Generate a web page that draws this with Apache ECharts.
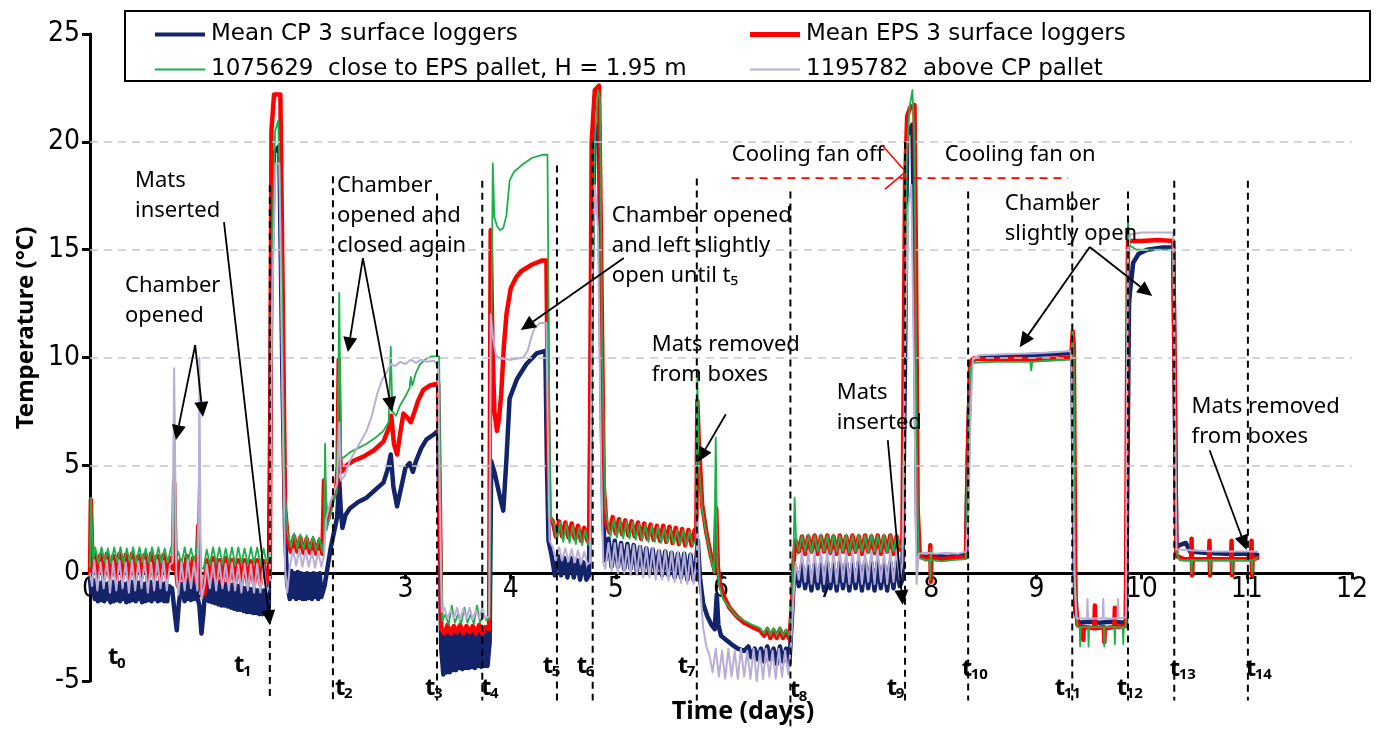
<!DOCTYPE html>
<html><head><meta charset="utf-8">
<script src="https://cdn.jsdelivr.net/npm/echarts/dist/echarts.min.js"></script>
<style>html,body{margin:0;padding:0;background:#fff}#c{width:1385px;height:729px}</style>
</head><body><div id="c"></div>
<script>
// ---------- axes ----------
const X_MIN = 0, X_MAX = 12, X_STEP = 1;
const Y_MIN = -5, Y_MAX = 25, Y_STEP = 5;
const GRID_VALUES = [5, 10, 15, 20];

// ---------- series names ----------
const NAME_CP = 'Mean CP 3 surface loggers';
const NAME_EPS = 'Mean EPS 3 surface loggers';
const NAME_G = '1075629  close to EPS pallet, H = 1.95 m';
const NAME_L = '1195782  above CP pallet';

// ---------- data (days, °C); {from, step, v} = consecutive logger readings ----------
const cpMean = [
  [0,-0.3],[0.012,-0.9],
  {from:0.03, step:0.015, v:[-0.4,-1.2,-0.5,-1.3,-0.45,-1.25,-0.4,-1.3,-0.5,-1.2,-0.45,-1.35,-0.4,-1.3,-0.5,-1.25,-0.45,-1.3,-0.4,-1.2,-0.5,-1.35,-0.45,-1.3,-0.4,-1.25,-0.5,-1.3,-0.45,-1.2,-0.4,-1.35,-0.5,-1.3,-0.45,-1.25,-0.4,-1.3,-0.5,-1.2,-0.45,-1.3,-0.4,-1.25,-0.5,-1.3,-0.45,-1.3,-0.6]},
  [0.78,-0.7],[0.8,-1.6],[0.825,-2.65],[0.845,-1.4],[0.87,-0.5],
  {from:0.9, step:0.015, v:[-1.3,-0.3,-1.2,-0.4,-1.25,-0.35,-1.2,-0.4,-1.1]},
  [1.04,-1.5],[1.06,-2.8],[1.08,-1.8],[1.1,-0.3],
  {from:1.13, step:0.015, v:[-1.3,-0.2,-1.35,-0.3,-1.4,-0.35,-1.45,-0.4,-1.5,-0.45,-1.5,-0.5,-1.55,-0.5,-1.6,-0.55,-1.65,-0.6,-1.7,-0.6,-1.7,-0.65,-1.75,-0.7,-1.8,-0.7,-1.8,-0.75,-1.85,-0.75,-1.85,-0.8,-1.9,-0.8,-1.9,-0.8,-1.85]},
  [1.7,-1.5],[1.725,14],[1.75,19.5],[1.8,19.8],[1.83,9],[1.855,2],[1.875,-0.5],
  {from:1.9, step:0.015, v:[-1.2,0.1,-1.1,0.0,-1.2,0.05,-1.15,0.0,-1.2,-0.05,-1.2,0.0,-1.15,-0.05,-1.2,0.0,-1.1,-0.1,-1.2,0.0,-1.1]},
  [2.23,-0.6],[2.26,0.3],[2.29,1.2],[2.32,1.9],[2.35,2.6],[2.37,4.3],[2.385,2.9],[2.4,2.1],[2.43,2.7],[2.47,3.0],[2.55,3.3],[2.63,3.5],[2.72,3.9],[2.79,4.2],[2.83,4.8],[2.86,5.5],[2.885,4.0],[2.92,3.1],[2.96,4.0],[3.0,4.9],[3.04,5.1],[3.07,4.7],[3.1,5.2],[3.15,5.8],[3.2,6.2],[3.26,6.4],[3.31,6.6],[3.325,2],[3.34,-3.5],
  {from:3.36, step:0.015, v:[-4.7,-2.8,-4.6,-2.7,-4.6,-2.8,-4.5,-2.7,-4.5,-2.8,-4.4,-2.7,-4.45,-2.75,-4.4,-2.7,-4.4,-2.8,-4.35,-2.7,-4.4,-2.75,-4.3,-2.7,-4.35,-2.8,-4.3,-2.7,-4.3]},
  [3.8,-3.2],[3.815,5.2],[3.85,4.6],[3.9,3.5],[3.93,2.9],[3.96,5.3],[3.99,8.1],[4.06,9.0],[4.15,9.7],[4.25,10.2],[4.33,10.3],[4.345,5],[4.36,1.5],[4.39,0.8],
  {from:4.42, step:0.03, v:[-0.1,0.8,-0.1,0.7,-0.2,0.7,-0.2,0.6,-0.3,0.5,-0.3]},
  [4.745,-0.1],[4.77,14],[4.8,20.5],[4.84,20.8],[4.86,10],[4.88,2.5],[4.9,0.6],
  {from:4.93, step:0.03, v:[1.6,0.3,1.5,0.3,1.4,0.2,1.35,0.2,1.3,0.1,1.2,0.1,1.15,0.0,1.1,0.0,1.0,-0.1,1.0,-0.1,0.95,-0.2,0.9,-0.2,0.9,-0.3,0.85,-0.3]},
  [5.765,0.6],[5.78,1.5],[5.8,-0.2],[5.83,-1.4],[5.87,-2.0],[5.91,-2.4],[5.94,-2.6],[5.96,-1.0],[5.975,-2.4],[6.0,-2.9],[6.05,-3.1],[6.1,-3.3],[6.16,-3.5],[6.22,-3.6],
  {from:6.26, step:0.03, v:[-3.4,-3.9,-3.5,-4.0,-3.5,-4.1,-3.4,-4.0,-3.5,-4.2,-3.4,-4.1,-3.5,-4.2]},
  [6.675,-2.0],[6.69,-0.5],[6.71,0.2],
  {from:6.74, step:0.03, v:[-0.6,0.4,-0.7,0.3,-0.8,0.4,-0.7,0.4,-0.8,0.5,-0.7,0.4,-0.8,0.5,-0.7,0.5,-0.8,0.4,-0.7,0.5,-0.8,0.5,-0.7,0.5,-0.8,0.5,-0.7,0.4,-0.8,0.5,-0.7,0.5,-0.6]},
  [7.725,-0.3],[7.75,10],[7.77,20.3],[7.82,20.8],[7.845,12],[7.865,2],[7.885,0.8],
  [7.95,0.75],[8.05,0.8],[8.15,0.75],[8.25,0.8],[8.33,0.85],[8.345,5],[8.37,9.7],[8.4,9.9],[8.5,10.0],[8.7,10.05],[8.9,10.1],[9.1,10.15],[9.3,10.2],[9.34,10.3],[9.355,3],[9.37,-1.8],[9.4,-2.3],[9.5,-2.25],[9.6,-2.3],[9.7,-2.25],[9.85,-2.3],
  [9.865,5],[9.88,12.5],[9.89,13.1],[9.92,14.4],[9.97,14.8],[10.05,15.0],[10.2,15.1],[10.3,15.1],[10.315,8],[10.33,1.2],[10.36,1.3],[10.42,1.4],[10.46,1.0],[10.6,0.95],[10.8,0.9],[11.0,0.9],[11.1,0.85]
];

const epsMean = [
  [0,0.0],[0.008,3.4],[0.025,0.2],
  {from:0.04, step:0.03, v:[0.9,-0.2,0.85,-0.3,0.9,-0.2,0.8,-0.3,0.9,-0.2,0.85,-0.25,0.9,-0.3,0.8,-0.2,0.85,-0.3,0.9,-0.25,0.8,-0.3,0.85,-0.2,0.7]},
  [0.79,0.2],[0.80,4.2],[0.815,0.3],[0.835,-0.6],[0.86,0.6],
  {from:0.89, step:0.03, v:[-0.3,0.8,-0.3,0.7,-0.35]},
  [1.03,2.2],[1.05,-0.6],[1.07,-1.05],[1.09,-0.9],[1.11,0.6],
  {from:1.14, step:0.03, v:[-0.4,0.7,-0.4,0.6,-0.45,0.7,-0.45,0.6,-0.5,0.6,-0.5,0.6,-0.5,0.55,-0.5,0.6,-0.5,0.55,-0.45]},
  [1.71,-0.2],[1.725,20.5],[1.75,22.2],[1.81,22.2],[1.83,14],[1.855,3],[1.88,1.6],
  {from:1.91, step:0.03, v:[1.0,1.7,1.0,1.65,0.95,1.6,0.95,1.55,0.9,1.5,0.9]},
  [2.225,4.3],[2.245,2.3],[2.27,2.6],[2.3,3.3],[2.34,3.8],[2.355,5],[2.365,9.9],[2.375,5.5],[2.39,4.7],[2.44,5.0],[2.5,5.2],[2.6,5.4],[2.7,5.7],[2.79,6.1],[2.84,6.7],[2.865,7.3],[2.89,6.0],[2.92,5.5],[2.95,6.5],[2.98,7.4],[3.02,7.2],[3.05,7.0],[3.08,7.4],[3.12,8.0],[3.17,8.5],[3.23,8.7],[3.31,8.8],[3.325,4],[3.34,-2.6],
  {from:3.37, step:0.03, v:[-2.8,-2.4,-2.8,-2.45,-2.75,-2.4,-2.8,-2.45,-2.75,-2.45,-2.8,-2.4,-2.8,-2.5]},
  [3.795,-2.6],[3.81,15.9],[3.825,11],[3.845,7.5],[3.87,6.6],[3.89,7.2],[3.91,8.3],[3.935,10.5],[3.96,12.0],[4.0,13.2],[4.05,13.7],[4.1,14.0],[4.2,14.3],[4.3,14.5],[4.34,14.5],[4.355,7],[4.37,2.6],[4.4,2.4],
  {from:4.43, step:0.03, v:[1.7,2.4,1.7,2.35,1.65,2.3,1.6,2.2,1.5,2.1,1.5]},
  [4.75,1.6],[4.77,20],[4.8,22.4],[4.84,22.6],[4.86,15],[4.885,4],[4.91,2.3],
  {from:4.94, step:0.03, v:[1.9,2.6,1.85,2.5,1.8,2.45,1.75,2.4,1.7,2.35,1.6,2.3,1.6,2.25,1.55,2.2,1.5,2.2,1.45,2.15,1.4,2.1,1.35,2.05,1.3,2.0,1.3,2.0]},
  [5.765,1.6],[5.775,8.0],[5.79,6.0],[5.82,3.2],[5.86,1.9],[5.9,0.9],[5.94,0.1],[5.955,3.0],[5.97,0.3],[5.99,-0.5],[6.03,-1.1],[6.08,-1.6],[6.15,-2.0],[6.22,-2.3],[6.3,-2.5],[6.37,-2.65],
  {from:6.41, step:0.03, v:[-2.9,-2.6,-3.0,-2.65,-3.0,-2.6,-3.0,-2.7,-3.05]},
  [6.675,-1.5],[6.69,0.5],[6.71,1.5],
  {from:6.74, step:0.03, v:[1.0,1.7,0.9,1.7,1.0,1.75,0.9,1.7,1.0,1.75,0.95,1.7,0.9,1.75,1.0,1.7,0.9,1.75,1.0,1.7,0.9,1.75,1.0,1.7,0.95,1.75,0.9,1.7,1.0,1.75,0.9,1.7,1.1]},
  [7.725,1.4],[7.75,18],[7.77,21.2],[7.8,21.6],[7.84,21.7],[7.855,14],[7.87,3],[7.89,0.8],
  [7.95,0.65],[7.985,0.7],[7.99,1.3],[7.995,-0.4],[8.0,0.7],[8.1,0.65],[8.2,0.7],[8.33,0.75],[8.345,5],[8.37,9.8],[8.4,9.95],[8.6,9.9],[8.8,9.95],[9.0,9.9],[9.2,9.95],[9.33,10.0],[9.345,11.2],[9.355,10.5],[9.37,-1.0],[9.39,-2.4],
  [9.44,-2.5],[9.445,-3.1],[9.45,-2.5],[9.55,-2.55],[9.555,-1.5],[9.56,-2.55],[9.64,-2.5],[9.645,-3.2],[9.65,-2.55],[9.74,-2.5],[9.745,-1.6],[9.75,-2.5],[9.85,-2.45],
  [9.86,8],[9.87,15.4],[10.0,15.4],[10.15,15.45],[10.3,15.4],[10.315,9],[10.33,0.8],[10.4,0.65],[10.47,0.65],[10.475,1.6],[10.48,-0.1],[10.485,0.65],[10.64,0.65],[10.645,1.5],[10.65,-0.1],[10.655,0.65],[10.85,0.65],[10.855,1.5],[10.86,-0.1],[10.865,0.65],[11.04,0.65],[11.045,1.5],[11.05,-0.1],[11.055,0.65],[11.1,0.7]
];

const logger1075629 = [
  [0,0.3],[0.01,3.5],[0.03,0.6],
  {from:0.05, step:0.03, v:[1.2,0.45,1.2,0.5,1.15,0.45,1.2,0.5,1.2,0.45,1.15,0.5,1.2,0.45,1.2,0.5,1.15,0.45,1.2,0.5,1.2,0.45,1.15,0.5]},
  [0.77,1.2],[0.79,0.6],[0.80,7.8],[0.815,0.6],[0.84,1.0],[0.87,0.4],
  {from:0.9, step:0.03, v:[1.2,0.45,1.15,0.5,1.2]},
  [1.035,4.1],[1.05,0.3],[1.08,0.2],[1.11,1.1],
  {from:1.14, step:0.03, v:[0.4,1.2,0.45,1.2,0.4,1.15,0.45,1.2,0.4,1.2,0.45,1.15,0.4,1.2,0.45,1.2,0.4,1.15,0.45]},
  [1.71,1.0],[1.73,15],[1.76,20.5],[1.79,21.0],[1.82,15],[1.85,4],[1.88,1.8],
  {from:1.91, step:0.03, v:[1.2,1.85,1.15,1.8,1.1,1.75,1.1,1.7,1.05,1.65,1.0]},
  [2.225,1.6],[2.235,6.0],[2.25,2.0],[2.28,2.6],[2.31,3.2],[2.345,3.8],[2.36,8],[2.37,13.0],[2.38,8],[2.39,5.3],[2.42,5.4],[2.47,5.6],[2.55,5.8],[2.63,6.0],[2.72,6.3],[2.79,6.6],[2.84,7.0],[2.86,10.5],[2.875,7.5],[2.91,7.3],[2.95,7.8],[3.0,8.2],[3.04,8.6],[3.05,9.1],[3.065,8.7],[3.1,9.3],[3.14,9.7],[3.2,9.95],[3.25,10.05],[3.32,10.05],[3.335,3],[3.35,-2.2],
  {from:3.38, step:0.03, v:[-1.9,-2.4,-1.5,-2.3,-1.9,-2.35,-1.6,-2.3,-1.9,-2.35,-1.5,-2.3,-1.9,-2.2]},
  [3.8,-2.1],[3.815,10],[3.83,19.0],[3.845,16.5],[3.87,16.1],[3.9,15.9],[3.93,16.0],[3.96,16.6],[3.99,18.2],[4.03,18.6],[4.1,18.9],[4.2,19.25],[4.3,19.4],[4.35,19.4],[4.365,9],[4.38,2.6],[4.41,2.3],
  {from:4.44, step:0.03, v:[1.5,2.35,1.45,2.3,1.4,2.2,1.35,2.1,1.3,2.0,1.3]},
  [4.76,1.5],[4.78,12],[4.8,20],[4.83,22.4],[4.85,22.0],[4.87,10],[4.9,3],[4.92,2.4],
  {from:4.95, step:0.03, v:[1.7,2.5,1.65,2.45,1.6,2.4,1.6,2.35,1.55,2.3,1.5,2.25,1.45,2.2,1.45,2.15,1.4,2.1,1.4,2.05,1.35,2.0,1.35,2.0,1.3,1.95,1.3]},
  [5.76,1.5],[5.775,9.1],[5.79,5],[5.82,3.0],[5.86,1.8],[5.9,0.8],[5.935,0.0],[5.95,6.3],[5.965,0.4],[5.985,-0.6],[6.02,-1.2],[6.08,-1.6],[6.15,-2.0],[6.22,-2.2],[6.3,-2.4],[6.37,-2.55],
  {from:6.41, step:0.03, v:[-2.8,-2.5,-2.9,-2.55,-2.9,-2.5,-2.9,-2.6,-2.95]},
  [6.675,-1.0],[6.69,1.0],[6.7,3.5],[6.715,1.5],
  {from:6.74, step:0.03, v:[1.0,1.75,1.0,1.8,0.95,1.75,1.0,1.8,1.0,1.75,0.95,1.8,1.0,1.75,1.0,1.8,0.95,1.75,1.0,1.8,1.0,1.75,0.95,1.8,1.0,1.75,1.0,1.8,0.95,1.75,1.0,1.8,1.2]},
  [7.725,1.3],[7.745,8],[7.765,19],[7.79,21.5],[7.82,22.4],[7.84,20],[7.86,6],[7.88,0.7],
  [7.95,0.6],[7.985,0.6],[7.99,-0.3],[7.995,1.1],[8.0,0.6],[8.1,0.55],[8.2,0.6],[8.33,0.65],[8.345,5],[8.37,9.5],[8.4,9.75],[8.6,9.8],[8.94,9.8],[8.95,9.4],[8.96,9.8],[9.1,9.85],[9.33,9.9],[9.345,11.2],[9.355,10],[9.37,-1.0],[9.39,-2.5],
  [9.41,-2.5],[9.415,-3.4],[9.42,-2.5],[9.49,-2.5],[9.495,-3.4],[9.5,-2.5],[9.64,-2.5],[9.645,-3.4],[9.65,-2.5],[9.74,-2.5],[9.745,-3.3],[9.75,-2.5],[9.82,-2.5],[9.825,-3.3],[9.83,-2.5],[9.85,-2.45],
  [9.86,10],[9.87,16.5],[9.885,15.2],[9.95,15.0],[10.1,15.0],[10.3,15.0],[10.315,8],[10.33,1.0],[10.36,0.6],[10.47,0.6],[10.475,0.0],[10.48,0.6],[10.645,0.6],[10.65,0.0],[10.655,0.6],[10.855,0.6],[10.86,0.0],[10.865,0.6],[11.045,0.6],[11.05,0.0],[11.055,0.6],[11.1,0.7]
];

const logger1195782 = [
  [0,0.0],[0.02,-0.6],
  {from:0.04, step:0.03, v:[0.6,-0.8,0.5,-0.7,0.6,-0.9,0.55,-0.8,0.6,-0.7,0.5,-0.9,0.6,-0.8,0.55,-0.7,0.6,-0.9,0.5,-0.8,0.6,-0.7,0.55,-0.8,0.4]},
  [0.785,0.5],[0.80,9.5],[0.81,5],[0.82,0.0],[0.84,-1.0],[0.87,0.5],
  {from:0.9, step:0.03, v:[-0.8,0.6,-0.7,0.5,-0.8]},
  [1.035,3],[1.04,10.0],[1.05,2],[1.06,-1.2],[1.09,-0.5],[1.11,0.4],
  {from:1.14, step:0.03, v:[-0.7,0.5,-0.8,0.5,-0.7,0.45,-0.8,0.5,-0.8,0.4,-0.9,0.45,-0.8,0.4,-0.9,0.45,-0.9,0.4,-0.9]},
  [1.71,-0.5],[1.73,12],[1.765,19.0],[1.8,19.0],[1.83,8],[1.855,0.2],[1.875,-0.9],
  {from:1.9, step:0.03, v:[0.3,1.1,0.35,1.1,0.3,1.05,0.3,1.0,0.25,1.0,0.3]},
  [2.225,0.8],[2.245,2.5],[2.27,3.0],[2.31,3.6],[2.35,4.2],[2.37,7.0],[2.385,4.3],[2.42,4.5],[2.47,5.2],[2.55,5.9],[2.63,6.6],[2.68,7.3],[2.73,8.3],[2.78,9.0],[2.82,9.3],[2.86,9.7],[2.9,9.6],[2.95,9.8],[3.0,9.7],[3.05,9.9],[3.1,9.75],[3.15,9.9],[3.2,9.8],[3.27,9.85],[3.31,9.6],[3.33,2],[3.345,-1.8],
  {from:3.37, step:0.03, v:[-1.6,-2.1,-1.7,-2.1,-1.6,-2.15,-1.65,-2.1,-1.6,-2.15,-1.7,-2.1,-1.6,-2.1]},
  [3.795,-2.0],[3.81,12],[3.83,11.0],[3.86,10.1],[3.9,9.95],[4.0,9.9],[4.12,10.0],[4.16,10.3],[4.2,11.0],[4.23,11.4],[4.28,11.6],[4.34,11.6],[4.355,6],[4.37,1.5],[4.4,1.2],
  {from:4.43, step:0.03, v:[0.6,1.2,0.6,1.15,0.55,1.1,0.5,1.05,0.45,1.0,0.4]},
  [4.755,0.5],[4.775,14],[4.8,18],[4.83,16],[4.86,5],[4.88,0.5],[4.9,0.2],
  {from:4.93, step:0.03, v:[1.4,0.1,1.4,0.0,1.35,0.0,1.3,-0.1,1.3,-0.1,1.25,-0.2,1.2,-0.2,1.15,-0.3,1.1,-0.3,1.05,-0.35,1.0,-0.4,1.0,-0.45,0.95,-0.5,0.9,-0.5]},
  [5.765,0.5],[5.78,2.5],[5.8,-0.5],[5.83,-2.5],[5.86,-3.4],[5.89,-3.8],
  {from:5.92, step:0.03, v:[-4.6,-3.5,-4.8,-3.6,-4.9,-3.5,-4.8,-3.6,-4.9,-3.5,-4.8,-3.6,-4.9,-3.5,-5.0,-3.6,-4.9,-3.5,-4.8,-3.6,-4.9,-3.5,-4.8,-3.6,-4.7]},
  [6.67,-3.0],[6.69,-1.0],[6.71,0.5],
  {from:6.74, step:0.03, v:[-0.3,1.0,-0.4,1.05,-0.5,1.0,-0.4,1.1,-0.5,1.0,-0.4,1.05,-0.5,1.1,-0.4,1.0,-0.5,1.05,-0.4,1.1,-0.5,1.0,-0.4,1.05,-0.5,1.1,-0.4,1.0,-0.5,1.05,-0.4,1.1,-0.3]},
  [7.725,0.5],[7.75,10],[7.78,17],[7.81,18],[7.84,8],[7.86,-0.5],[7.88,0.9],
  [7.95,0.95],[8.05,0.9],[8.15,0.95],[8.25,0.9],[8.33,1.0],[8.355,3],[8.375,7.7],[8.395,9.9],[8.45,10.1],[8.7,10.15],[9.0,10.2],[9.2,10.25],[9.33,10.3],[9.345,10.3],[9.36,0],[9.38,-2.1],
  [9.48,-2.1],[9.485,-1.2],[9.49,-2.1],[9.63,-2.1],[9.635,-1.2],[9.64,-2.1],[9.77,-2.1],[9.775,-1.2],[9.78,-2.1],[9.85,-2.05],
  [9.86,8],[9.87,15.0],[9.89,15.7],[10.0,15.8],[10.3,15.8],[10.315,9],[10.33,1.1],[10.5,1.05],[10.7,1.0],[10.9,1.0],[11.1,1.0]
];

// ---------- event markers t0..t14 (day, top of dashed line, label position) ----------
const tMarks = [
  {n:'0',  t:null,  top:null, lx:0.171, ly:-3.90},
  {n:'1',  t:1.71,  top:18.0, lx:1.369, ly:-4.27},
  {n:'2',  t:2.31,  top:18.4, lx:2.329, ly:-5.33},
  {n:'3',  t:3.30,  top:17.6, lx:3.185, ly:-5.33},
  {n:'4',  t:3.73,  top:18.2, lx:3.717, ly:-5.33},
  {n:'5',  t:4.44,  top:18.9, lx:4.306, ly:-4.31},
  {n:'6',  t:4.78,  top:20.0, lx:4.629, ly:-4.31},
  {n:'7',  t:5.77,  top:18.3, lx:5.589, ly:-4.31},
  {n:'8',  t:6.66,  top:17.7, lx:6.654, ly:-5.43},
  {n:'9',  t:7.75,  top:20.0, lx:7.576, ly:-5.33},
  {n:'10', t:8.35,  top:17.7, lx:8.289, ly:-4.45},
  {n:'11', t:9.34,  top:17.7, lx:9.173, ly:-5.33},
  {n:'12', t:9.87,  top:17.7, lx:9.762, ly:-5.33},
  {n:'13', t:10.31, top:18.2, lx:10.266, ly:-4.45},
  {n:'14', t:11.01, top:18.2, lx:10.989, ly:-4.45}
];
const T_LINE_BOTTOM = -5.9;

// ---------- annotations (text block left edge / first line centre, in data units) ----------
const notes = [
  {x:0.428, y:18.18, text:'Mats\ninserted'},
  {x:0.333, y:13.31, text:'Chamber\nopened'},
  {x:2.348, y:17.95, text:'Chamber\nopened and\nclosed again'},
  {x:4.962, y:16.56, text:'Chamber opened\nand left slightly\nopen until t\u2085'},
  {x:5.342, y:10.58, text:'Mats removed\nfrom boxes'},
  {x:7.10,  y:8.35,  text:'Mats\ninserted'},
  {x:6.103, y:19.39, text:'Cooling fan off'},
  {x:8.127, y:19.39, text:'Cooling fan on'},
  {x:8.698, y:17.11, text:'Chamber\nslightly open'},
  {x:10.475, y:7.70, text:'Mats removed\nfrom boxes'}
];
const arrows = [
  [1.274,16.28, 1.711,-2.41],
  [1.0,10.58, 0.817,6.17],
  [1.0,10.58, 1.074,7.24],
  [2.595,14.61, 2.452,10.25],
  [2.595,14.61, 2.871,7.47],
  [5.076,14.61, 4.097,11.27],
  [6.046,7.37, 5.78,5.15],
  [7.586,6.17, 7.728,-1.48],
  [9.506,15.12, 8.84,10.48],
  [9.506,15.12, 10.10,12.85],
  [10.646,5.70, 10.998,1.07]
];
const fanLine = [6.10, 9.30, 18.32];
const fanMarks = [[7.53,19.85, 7.75,18.65],[7.56,17.81, 7.74,18.55]];

// ---------- build ----------
function expand(list) {
  const out = [];
  list.forEach(e => {
    if (Array.isArray(e)) out.push(e);
    else e.v.forEach((v, i) => out.push([+(e.from + i * e.step).toFixed(3), v]));
  });
  out.sort((a, b) => a[0] - b[0]);
  return out;
}

const AX_FONT = "'Liberation Sans Narrow', 'DejaVu Sans Condensed', 'Liberation Sans', sans-serif";
const ANN_FONT = "22px 'Noto Sans', 'Open Sans', sans-serif";

function lineSeries(name, data, color, width, z) {
  return {
    name, type: 'line', data: expand(data), symbol: 'none', showSymbol: false,
    lineStyle: { color, width, join: 'round', cap: 'round' }, itemStyle: { color },
    z, silent: true, animation: false
  };
}

function legendFor(name, left, top, thick) {
  return {
    data: [name], left, top, padding: 0, itemWidth: 50, itemHeight: thick, itemGap: 0,
    icon: 'rect', selectedMode: false,
    textStyle: { fontFamily: 'DejaVu Sans', fontSize: 23, color: '#000', padding: [0, 0, 0, 1] }
  };
}

const option = {
  animation: false,
  backgroundColor: '#fff',
  grid: { left: 90, right: 33, top: 34, bottom: 48, containLabel: false },
  xAxis: {
    type: 'value', min: X_MIN, max: X_MAX, interval: X_STEP,
    axisLine: { onZero: false, lineStyle: { color: '#000', width: 3 } },
    axisTick: { show: true, length: 6, lineStyle: { color: '#000', width: 3 } },
    axisLabel: { color: '#000', fontFamily: AX_FONT, fontSize: 28, margin: 3 },
    splitLine: { show: false }
  },
  yAxis: {
    type: 'value', min: Y_MIN, max: Y_MAX, interval: Y_STEP,
    axisLine: { show: true, onZero: false, lineStyle: { color: '#000', width: 3 } },
    axisTick: { show: true, length: 8, lineStyle: { color: '#000', width: 3 } },
    axisLabel: { color: '#000', fontFamily: AX_FONT, fontSize: 28, margin: 10 },
    splitLine: { show: false }
  },
  legend: [
    legendFor(NAME_CP, 155, 23, 4),
    legendFor(NAME_EPS, 750, 23, 5),
    legendFor(NAME_G, 155, 58, 2),
    legendFor(NAME_L, 750, 58, 2)
  ],
  series: [
    {
      name: '_grid', type: 'line', data: [], z: 1, silent: true,
      markLine: {
        symbol: 'none', silent: true, animation: false,
        label: { show: false },
        lineStyle: { type: [8, 6], color: '#c6c4d0', width: 1.5 },
        data: GRID_VALUES.map(v => ({ yAxis: v }))
      }
    },
    lineSeries(NAME_CP, cpMean, '#13246b', 4.5, 2),
    lineSeries(NAME_EPS, epsMean, '#ff0000', 4.5, 3),
    lineSeries(NAME_G, logger1075629, '#1db04a', 1.8, 4),
    lineSeries(NAME_L, logger1195782, '#b9aed6', 2, 5)
  ]
};

const chart = echarts.init(document.getElementById('c'), null, { renderer: 'canvas' });
chart.setOption(option);

const P = (x, y) => chart.convertToPixel({ gridIndex: 0 }, [x, y]);

// move the x axis (line, ticks and labels) up to the 0 °C level
const zeroShift = P(0, Y_MIN)[1] - P(0, 0)[1];
chart.setOption({ xAxis: { offset: -zeroShift } });

const g = [];

// legend frame
g.push({ type: 'rect', z: 60, shape: { x: 125, y: 11, width: 1245, height: 70 },
  style: { fill: 'none', stroke: '#000', lineWidth: 2 } });

// axis titles
g.push({ type: 'text', z: 60, x: 26, y: 328, rotation: Math.PI / 2,
  style: { text: 'Temperature (°C)', x: 0, y: 0, align: 'center', verticalAlign: 'middle',
    font: "bold 24px 'Noto Sans', 'Open Sans', sans-serif", fill: '#000' } });
g.push({ type: 'text', z: 60,
  style: { text: 'Time (days)', x: 743, y: 712, align: 'center', verticalAlign: 'middle',
    font: "bold 25px 'Noto Sans', 'Open Sans', sans-serif", fill: '#000' } });

// annotation texts
notes.forEach(a => {
  const [px, py] = P(a.x, a.y);
  g.push({ type: 'text', z: 60, style: { text: a.text, x: px, y: py - 15, font: ANN_FONT,
    fill: '#000', align: 'left', verticalAlign: 'top', lineHeight: 30 } });
});

// t labels
tMarks.forEach(m => {
  const [px, py] = P(m.lx, m.ly);
  g.push({ type: 'text', z: 60, style: { text: 't', x: px, y: py, font: "bold 24px 'Noto Sans', sans-serif",
    fill: '#000', align: 'left', verticalAlign: 'middle' } });
  g.push({ type: 'text', z: 60, style: { text: m.n, x: px + 9, y: py + 6, font: "bold 15px 'Noto Sans', sans-serif",
    fill: '#000', align: 'left', verticalAlign: 'middle' } });
});

// dashed event lines
tMarks.forEach(m => {
  if (m.t === null) return;
  const a = P(m.t, m.top), b = P(m.t, m.n === '8' ? -7.1 : T_LINE_BOTTOM);
  g.push({ type: 'line', z: 70, shape: { x1: a[0], y1: a[1], x2: b[0], y2: b[1] },
    style: { stroke: '#000', lineWidth: 2, lineDash: [7, 5] } });
});

// arrows
arrows.forEach(([x1, y1, x2, y2]) => {
  const a = P(x1, y1), b = P(x2, y2);
  const ang = Math.atan2(b[1] - a[1], b[0] - a[0]);
  const L = 15, W = 7;
  const bx = b[0] - L * Math.cos(ang), by = b[1] - L * Math.sin(ang);
  g.push({ type: 'line', z: 75, shape: { x1: a[0], y1: a[1], x2: bx, y2: by },
    style: { stroke: '#000', lineWidth: 1.8 } });
  g.push({ type: 'polygon', z: 75, shape: { points: [[b[0], b[1]],
    [bx + W * Math.sin(ang), by - W * Math.cos(ang)], [bx - W * Math.sin(ang), by + W * Math.cos(ang)]] },
    style: { fill: '#000' } });
});

// cooling fan markers
{
  const a = P(fanLine[0], fanLine[2]), b = P(fanLine[1], fanLine[2]);
  g.push({ type: 'line', z: 75, shape: { x1: a[0], y1: a[1], x2: b[0], y2: b[1] },
    style: { stroke: '#ff0000', lineWidth: 1.8, lineDash: [8, 6] } });
  fanMarks.forEach(([x1, y1, x2, y2]) => {
    const p = P(x1, y1), q = P(x2, y2);
    g.push({ type: 'line', z: 75, shape: { x1: p[0], y1: p[1], x2: q[0], y2: q[1] },
      style: { stroke: '#ff0000', lineWidth: 1.5 } });
  });
}

chart.setOption({ graphic: g });
</script></body></html>
